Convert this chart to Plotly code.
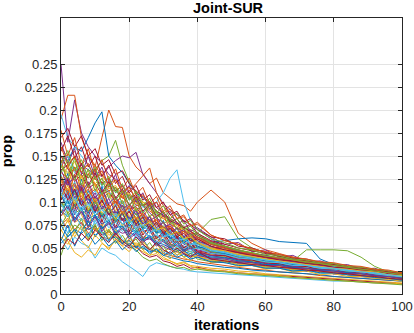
import plotly.graph_objects as go

# iteration grid shared by every run
iterations = [0, 2, 4, 6, 8, 10, 12, 14, 16, 18, 20, 22, 24, 26, 28, 30, 32, 34, 36, 38, 40,
              44, 48, 52, 56, 60, 64, 68, 72, 76, 80, 84, 88, 92, 96, 100]

# prop per run, in thousandths
runs = [
    [128, 110, 121, 99, 112, 95, 104, 88, 97, 80, 91, 76, 83, 70, 78, 64, 69, 57, 62, 51, 55, 46, 45, 40, 38, 37, 33, 33, 29, 29, 25, 25, 21, 21, 18, 17],
    [160, 148, 155, 140, 150, 138, 170, 200, 182, 181, 150, 138, 131, 120, 126, 110, 104, 98, 96, 90, 100, 113, 100, 66, 55, 48, 44, 40, 37, 34, 31, 29, 26, 24, 22, 20],
    [108, 115, 98, 104, 92, 97, 84, 90, 78, 83, 72, 76, 66, 70, 61, 64, 55, 58, 50, 52, 46, 43, 40, 37, 35, 33, 31, 29, 27, 26, 24, 22, 20, 19, 17, 15],
    [250, 165, 211, 175, 160, 150, 142, 130, 125, 118, 110, 100, 96, 88, 82, 78, 70, 66, 62, 58, 55, 50, 46, 42, 40, 37, 35, 33, 31, 29, 27, 25, 23, 21, 20, 18],
    [140, 132, 138, 128, 130, 135, 145, 150, 167, 140, 122, 110, 100, 95, 88, 84, 80, 76, 72, 70, 66, 81, 84, 60, 50, 45, 41, 38, 35, 32, 30, 28, 25, 23, 21, 19],
    [60, 48, 62, 55, 52, 39, 50, 45, 42, 35, 30, 25, 19, 30, 34, 32, 30, 28, 27, 25, 24, 23, 22, 21, 20, 19, 18, 17, 16, 15, 14, 14, 13, 12, 12, 11],
    [135, 140, 122, 130, 115, 120, 108, 112, 100, 96, 92, 95, 84, 80, 78, 72, 70, 65, 62, 60, 56, 50, 47, 44, 41, 38, 36, 34, 31, 30, 28, 27, 26, 24, 23, 22],
    [150, 145, 160, 155, 170, 186, 198, 150, 140, 132, 120, 110, 105, 98, 90, 85, 78, 72, 68, 64, 60, 54, 50, 46, 43, 40, 37, 35, 33, 31, 29, 27, 25, 23, 21, 19],
    [190, 216, 216, 170, 150, 140, 128, 120, 112, 105, 98, 90, 86, 80, 75, 70, 66, 62, 58, 55, 52, 47, 44, 41, 38, 36, 34, 31, 30, 28, 26, 24, 22, 21, 19, 18],
    [85, 90, 78, 82, 74, 70, 72, 64, 66, 58, 55, 50, 46, 42, 44, 38, 36, 33, 35, 31, 30, 28, 27, 25, 24, 22, 21, 20, 19, 18, 17, 16, 15, 14, 13, 12],
    [125, 118, 130, 140, 135, 130, 128, 138, 145, 150, 148, 154, 130, 120, 110, 98, 92, 85, 80, 75, 70, 60, 52, 46, 42, 39, 37, 35, 33, 31, 29, 27, 25, 23, 21, 19],
    [95, 100, 88, 92, 84, 80, 86, 76, 78, 70, 68, 72, 62, 60, 64, 56, 54, 50, 48, 46, 44, 41, 38, 36, 34, 32, 30, 28, 27, 25, 24, 22, 20, 19, 17, 16],
    [115, 120, 110, 118, 105, 112, 100, 108, 96, 102, 92, 98, 90, 95, 100, 110, 126, 135, 100, 80, 70, 60, 50, 45, 41, 38, 36, 34, 32, 30, 28, 26, 24, 22, 20, 18],
    [102, 110, 96, 100, 90, 94, 84, 88, 80, 82, 74, 76, 68, 70, 62, 64, 58, 56, 52, 50, 47, 44, 41, 38, 36, 34, 32, 30, 28, 27, 25, 23, 21, 20, 18, 17],
    [110, 104, 112, 98, 104, 92, 96, 86, 90, 80, 84, 74, 78, 70, 72, 64, 66, 60, 62, 58, 56, 56, 58, 60, 61, 60, 57, 56, 55, 38, 32, 29, 27, 25, 23, 21],
    [75, 82, 70, 78, 66, 72, 62, 60, 64, 56, 58, 52, 54, 48, 46, 44, 42, 40, 38, 37, 35, 33, 31, 29, 27, 26, 24, 23, 22, 20, 19, 18, 17, 16, 15, 14],
    [150, 142, 148, 136, 140, 128, 130, 120, 124, 112, 116, 104, 100, 96, 90, 84, 80, 74, 70, 66, 62, 56, 52, 48, 44, 41, 38, 36, 33, 31, 29, 27, 25, 24, 23, 21],
    [118, 124, 108, 114, 102, 106, 96, 92, 88, 90, 82, 78, 80, 72, 70, 66, 62, 60, 56, 54, 50, 46, 43, 40, 38, 36, 33, 31, 30, 28, 26, 24, 22, 21, 19, 17],
    [100, 94, 102, 90, 96, 86, 88, 80, 82, 76, 72, 68, 70, 62, 60, 58, 54, 52, 48, 46, 44, 42, 39, 37, 35, 34, 33, 36, 48, 48, 48, 47, 40, 30, 24, 20],
    [195, 170, 160, 150, 140, 125, 118, 110, 104, 98, 92, 86, 80, 76, 70, 66, 60, 56, 52, 48, 45, 42, 39, 36, 34, 32, 30, 28, 26, 25, 23, 21, 20, 18, 17, 15],
    [80, 72, 84, 76, 70, 74, 64, 68, 60, 55, 50, 52, 44, 40, 42, 36, 34, 30, 32, 28, 29, 26, 25, 23, 22, 21, 20, 19, 18, 17, 16, 15, 14, 13, 12, 11],
    [55, 62, 70, 66, 72, 64, 68, 60, 62, 56, 58, 52, 50, 46, 48, 42, 40, 38, 36, 35, 33, 31, 29, 28, 26, 25, 24, 23, 22, 21, 19, 18, 17, 16, 15, 14],
    [132, 126, 138, 124, 130, 118, 122, 112, 116, 104, 108, 96, 98, 90, 86, 82, 76, 72, 68, 66, 60, 54, 50, 46, 43, 40, 38, 35, 33, 31, 29, 27, 25, 23, 21, 19],
    [70, 58, 45, 40, 48, 42, 55, 50, 58, 52, 60, 54, 56, 50, 46, 40, 36, 32, 34, 30, 28, 26, 25, 23, 22, 21, 20, 18, 17, 16, 15, 14, 13, 12, 12, 11],
    [112, 106, 118, 100, 108, 96, 100, 94, 86, 92, 80, 84, 74, 76, 68, 66, 60, 62, 54, 52, 48, 45, 42, 39, 37, 35, 32, 30, 29, 27, 25, 23, 21, 20, 18, 16],
    [42, 65, 75, 70, 78, 72, 66, 70, 62, 58, 52, 48, 40, 36, 38, 33, 30, 28, 29, 26, 27, 25, 24, 22, 21, 20, 19, 18, 17, 16, 15, 14, 13, 12, 11, 10],
    [140, 150, 132, 142, 126, 134, 118, 124, 110, 114, 102, 106, 94, 98, 86, 88, 80, 76, 72, 68, 64, 56, 50, 46, 42, 39, 36, 34, 32, 30, 28, 26, 24, 22, 20, 18],
    [170, 180, 160, 172, 150, 158, 140, 146, 130, 134, 120, 112, 106, 100, 94, 88, 82, 78, 72, 68, 62, 55, 50, 46, 42, 39, 37, 35, 33, 31, 30, 28, 27, 25, 24, 23],
    [90, 84, 96, 88, 82, 86, 76, 80, 72, 74, 66, 70, 60, 62, 56, 54, 50, 48, 46, 44, 42, 39, 36, 34, 32, 30, 28, 27, 25, 24, 22, 21, 19, 18, 17, 15],
    [118, 124, 112, 120, 108, 114, 104, 110, 100, 106, 112, 120, 128, 137, 110, 96, 86, 78, 70, 64, 58, 50, 46, 43, 40, 37, 35, 33, 31, 29, 27, 25, 23, 21, 19, 17],
    [138, 130, 144, 126, 134, 120, 126, 114, 118, 106, 110, 98, 100, 92, 88, 82, 78, 72, 70, 64, 60, 54, 49, 45, 42, 39, 36, 34, 32, 30, 28, 26, 24, 22, 20, 18],
    [88, 96, 82, 90, 78, 84, 72, 76, 70, 66, 68, 62, 58, 60, 54, 52, 48, 46, 44, 42, 40, 37, 35, 33, 31, 29, 28, 26, 25, 24, 22, 21, 19, 18, 17, 15],
    [105, 98, 110, 96, 100, 90, 94, 88, 84, 86, 78, 80, 72, 74, 66, 68, 60, 58, 56, 52, 50, 46, 43, 40, 37, 35, 33, 31, 29, 28, 26, 24, 22, 20, 19, 17],
    [98, 90, 104, 86, 94, 82, 88, 76, 82, 72, 76, 66, 70, 62, 64, 56, 58, 52, 50, 46, 44, 41, 38, 36, 34, 32, 30, 29, 27, 25, 23, 22, 20, 19, 17, 16],
    [145, 138, 150, 132, 126, 136, 120, 126, 112, 118, 104, 108, 96, 100, 90, 86, 80, 76, 72, 68, 64, 57, 52, 48, 44, 41, 38, 36, 34, 32, 30, 28, 26, 24, 22, 20],
    [112, 131, 96, 125, 104, 88, 117, 95, 83, 102, 78, 94, 71, 85, 66, 80, 60, 72, 55, 64, 50, 52, 42, 46, 36, 40, 31, 35, 28, 31, 25, 27, 21, 23, 18, 19],
    [146, 120, 138, 112, 131, 118, 100, 124, 96, 110, 88, 104, 82, 97, 75, 86, 70, 78, 62, 70, 55, 49, 52, 43, 45, 37, 39, 32, 34, 29, 30, 25, 26, 21, 22, 18],
    [92, 78, 104, 86, 72, 95, 80, 66, 89, 74, 62, 80, 58, 70, 54, 63, 49, 58, 45, 52, 42, 38, 41, 34, 36, 30, 32, 27, 29, 24, 25, 21, 22, 18, 19, 15],
    [165, 142, 158, 130, 150, 126, 138, 116, 130, 108, 118, 100, 110, 92, 100, 84, 90, 76, 80, 68, 72, 62, 54, 56, 46, 48, 40, 42, 35, 36, 31, 32, 27, 28, 23, 24],
    [74, 88, 66, 82, 60, 76, 58, 70, 55, 64, 52, 60, 48, 56, 45, 52, 42, 48, 40, 44, 38, 35, 36, 32, 33, 29, 30, 27, 27, 24, 24, 21, 21, 19, 18, 16],
    [130, 104, 122, 98, 114, 92, 106, 86, 98, 80, 92, 74, 86, 68, 78, 62, 70, 58, 64, 54, 58, 50, 44, 44, 38, 38, 33, 33, 29, 29, 25, 26, 22, 22, 19, 19],
    [102, 125, 90, 116, 84, 106, 78, 98, 72, 90, 68, 82, 64, 74, 60, 68, 55, 62, 50, 56, 46, 42, 42, 37, 37, 33, 33, 29, 30, 26, 27, 23, 24, 20, 21, 17],
    [58, 75, 52, 68, 80, 62, 74, 58, 68, 54, 64, 50, 60, 48, 56, 44, 52, 42, 48, 40, 44, 38, 34, 35, 31, 32, 28, 29, 25, 26, 22, 23, 19, 20, 17, 16],
    [178, 150, 170, 140, 158, 132, 146, 124, 136, 114, 126, 108, 116, 98, 106, 90, 96, 82, 86, 74, 78, 64, 58, 54, 48, 46, 41, 40, 36, 35, 31, 30, 27, 26, 23, 22],
    [120, 140, 112, 128, 104, 120, 96, 110, 90, 102, 84, 94, 78, 86, 72, 78, 66, 72, 60, 64, 56, 50, 48, 44, 42, 38, 37, 34, 33, 30, 29, 26, 26, 23, 22, 20],
    [96, 110, 86, 104, 80, 96, 74, 88, 70, 82, 64, 76, 60, 70, 56, 64, 52, 58, 48, 52, 45, 42, 39, 38, 34, 34, 30, 31, 27, 27, 24, 24, 21, 21, 18, 18],
    [140, 125, 148, 118, 136, 112, 126, 104, 116, 98, 108, 90, 98, 84, 90, 76, 82, 70, 74, 64, 66, 56, 52, 48, 45, 42, 39, 37, 34, 33, 30, 29, 26, 25, 22, 21],
    [82, 66, 90, 72, 62, 80, 66, 56, 72, 60, 52, 64, 54, 46, 58, 48, 42, 52, 44, 38, 46, 36, 38, 32, 33, 28, 29, 25, 26, 22, 23, 19, 20, 17, 17, 14],
    [155, 172, 148, 160, 138, 150, 128, 140, 120, 128, 110, 118, 102, 108, 94, 100, 86, 90, 78, 82, 70, 62, 60, 52, 50, 45, 43, 39, 38, 34, 33, 30, 29, 26, 25, 22],
    [108, 92, 114, 96, 88, 104, 84, 94, 78, 88, 74, 82, 70, 76, 66, 70, 60, 64, 56, 60, 52, 47, 44, 41, 39, 36, 35, 32, 31, 29, 28, 25, 25, 22, 21, 19],
    [125, 108, 130, 102, 120, 98, 110, 92, 104, 86, 96, 80, 88, 74, 82, 68, 74, 62, 68, 56, 60, 52, 46, 45, 41, 40, 36, 36, 32, 32, 28, 28, 24, 24, 21, 21],
    [68, 80, 62, 74, 58, 68, 76, 60, 70, 56, 64, 52, 58, 48, 54, 46, 50, 42, 46, 40, 42, 36, 37, 32, 33, 29, 30, 26, 27, 24, 24, 21, 21, 19, 18, 16],
    [135, 118, 128, 110, 122, 104, 114, 98, 106, 92, 98, 86, 90, 80, 84, 72, 76, 66, 70, 60, 62, 54, 50, 47, 44, 42, 39, 38, 35, 34, 31, 30, 27, 26, 24, 22],
    [100, 88, 96, 112, 90, 100, 86, 92, 80, 96, 76, 88, 72, 80, 68, 74, 64, 68, 58, 62, 54, 48, 46, 42, 40, 37, 36, 33, 32, 29, 28, 25, 25, 22, 21, 18],
    [116, 98, 106, 92, 100, 86, 94, 82, 88, 76, 82, 72, 76, 66, 72, 62, 66, 58, 60, 54, 56, 48, 46, 42, 41, 37, 37, 33, 33, 29, 30, 26, 26, 23, 22, 19],
    [150, 136, 126, 142, 118, 132, 110, 122, 104, 114, 96, 106, 90, 98, 84, 90, 78, 82, 72, 76, 66, 58, 54, 50, 47, 44, 41, 38, 36, 34, 32, 30, 28, 26, 24, 22],
    [88, 102, 80, 94, 74, 86, 70, 80, 66, 74, 62, 68, 58, 64, 54, 60, 50, 56, 47, 52, 44, 40, 40, 36, 35, 32, 32, 29, 28, 26, 25, 23, 22, 20, 19, 17],
    [128, 112, 120, 106, 114, 100, 108, 94, 100, 88, 94, 82, 86, 78, 80, 72, 74, 66, 68, 62, 62, 54, 50, 46, 44, 41, 39, 37, 35, 33, 31, 29, 27, 26, 23, 22],
    [62, 54, 68, 58, 50, 64, 56, 48, 60, 52, 46, 56, 48, 42, 50, 44, 38, 46, 40, 36, 42, 34, 35, 30, 31, 27, 28, 24, 25, 21, 22, 19, 19, 17, 16, 14],
    [112, 126, 104, 118, 98, 110, 92, 104, 88, 96, 82, 90, 76, 84, 72, 78, 66, 72, 62, 66, 58, 52, 48, 45, 42, 40, 37, 35, 33, 31, 29, 28, 25, 25, 22, 21],
    [142, 156, 134, 146, 126, 138, 118, 128, 110, 120, 102, 112, 96, 104, 88, 96, 82, 88, 76, 80, 70, 60, 56, 50, 48, 43, 42, 38, 37, 34, 33, 30, 29, 27, 25, 23],
    [98, 84, 92, 80, 88, 76, 84, 72, 78, 68, 74, 64, 70, 60, 66, 56, 60, 52, 56, 48, 50, 44, 43, 39, 38, 35, 34, 31, 31, 28, 27, 25, 24, 22, 20, 19],
    [120, 102, 114, 96, 108, 90, 102, 86, 96, 80, 90, 76, 84, 70, 78, 66, 72, 62, 66, 58, 60, 52, 48, 45, 42, 40, 37, 36, 33, 32, 29, 28, 26, 25, 22, 21],
    [75, 62, 70, 58, 66, 54, 62, 52, 58, 48, 55, 46, 52, 44, 49, 42, 46, 40, 43, 38, 40, 35, 34, 31, 31, 28, 28, 25, 26, 23, 23, 21, 20, 18, 17, 15],
    [160, 140, 150, 132, 142, 124, 134, 116, 124, 110, 116, 102, 108, 96, 100, 88, 92, 82, 84, 74, 76, 64, 58, 54, 49, 46, 43, 40, 38, 35, 34, 31, 30, 27, 26, 23],
    [105, 118, 98, 110, 92, 104, 88, 96, 82, 90, 78, 84, 74, 78, 70, 72, 64, 68, 60, 62, 56, 49, 47, 43, 41, 38, 36, 34, 32, 30, 28, 27, 25, 24, 21, 20],
    [85, 96, 78, 90, 72, 84, 68, 78, 64, 72, 60, 66, 56, 62, 52, 58, 48, 54, 46, 50, 42, 39, 38, 35, 34, 31, 31, 28, 28, 25, 25, 22, 22, 20, 19, 17],
    [132, 146, 124, 138, 116, 128, 108, 120, 102, 112, 96, 104, 88, 96, 82, 90, 76, 82, 70, 74, 64, 55, 52, 47, 45, 41, 40, 37, 35, 33, 31, 29, 27, 25, 23, 21],
    [110, 95, 104, 90, 98, 86, 92, 80, 86, 76, 80, 70, 75, 66, 70, 62, 64, 58, 60, 54, 54, 47, 45, 41, 39, 37, 35, 33, 31, 29, 28, 26, 24, 23, 21, 19],
    [48, 60, 54, 66, 58, 70, 62, 56, 66, 58, 52, 62, 54, 48, 56, 48, 44, 50, 44, 40, 46, 38, 36, 34, 32, 31, 29, 28, 26, 25, 23, 22, 20, 19, 17, 16],
]

# matlab default colour order
colors = ['#0072BD', '#D95319', '#EDB120', '#7E2F8E', '#77AC30', '#4DBEEE', '#A2142F']

ytick_vals = [0, 0.025, 0.05, 0.075, 0.1, 0.125, 0.15, 0.175, 0.2, 0.225, 0.25]
ytick_text = ['0', '0.025', '0.05', '0.075', '0.1', '0.125', '0.15', '0.175', '0.2', '0.225', '0.25']

fig = go.Figure()
for i, run in enumerate(runs):
    fig.add_trace(go.Scatter(x=iterations, y=[v / 1000 for v in run], mode='lines',
                             line=dict(color=colors[i % 7], width=1), showlegend=False,
                             hoverinfo='skip'))

axis_style = dict(showline=True, linecolor='#262626', linewidth=1, mirror='ticks',
                  ticks='inside', ticklen=4, tickcolor='#262626', automargin=False,
                  showgrid=True, gridcolor='#e3e3e3', gridwidth=1, zeroline=False,
                  tickfont=dict(family='Liberation Sans', size=13, color='#262626'))

label_font = dict(family='Liberation Sans', size=14.5, color='black')

fig.update_layout(
    width=414, height=333,
    margin=dict(l=61, r=12, t=18, b=39),
    paper_bgcolor='white', plot_bgcolor='white',
    xaxis=dict(range=[0, 100], tickvals=[0, 20, 40, 60, 80, 100], **axis_style),
    yaxis=dict(range=[0, 0.3], tickvals=ytick_vals, ticktext=ytick_text, **axis_style),
    annotations=[
        dict(text='<b>Joint-SUR</b>', xref='paper', yref='paper', x=0.49, y=1.036,
             showarrow=False, xanchor='center', yanchor='middle', font=label_font),
        dict(text='<b>iterations</b>', xref='paper', yref='paper', x=0.484, y=-0.112,
             showarrow=False, xanchor='center', yanchor='middle', font=label_font),
        dict(text='<b>prop</b>', xref='paper', yref='paper', x=-0.158, y=0.518, textangle=-90,
             showarrow=False, xanchor='center', yanchor='middle', font=label_font),
    ],
)

# page body has an 8px default margin, drop it so the figure sits at 0,0
fig.write_html("out.html", config={'displayModeBar': False},
               post_script="document.body.style.margin='0';")
